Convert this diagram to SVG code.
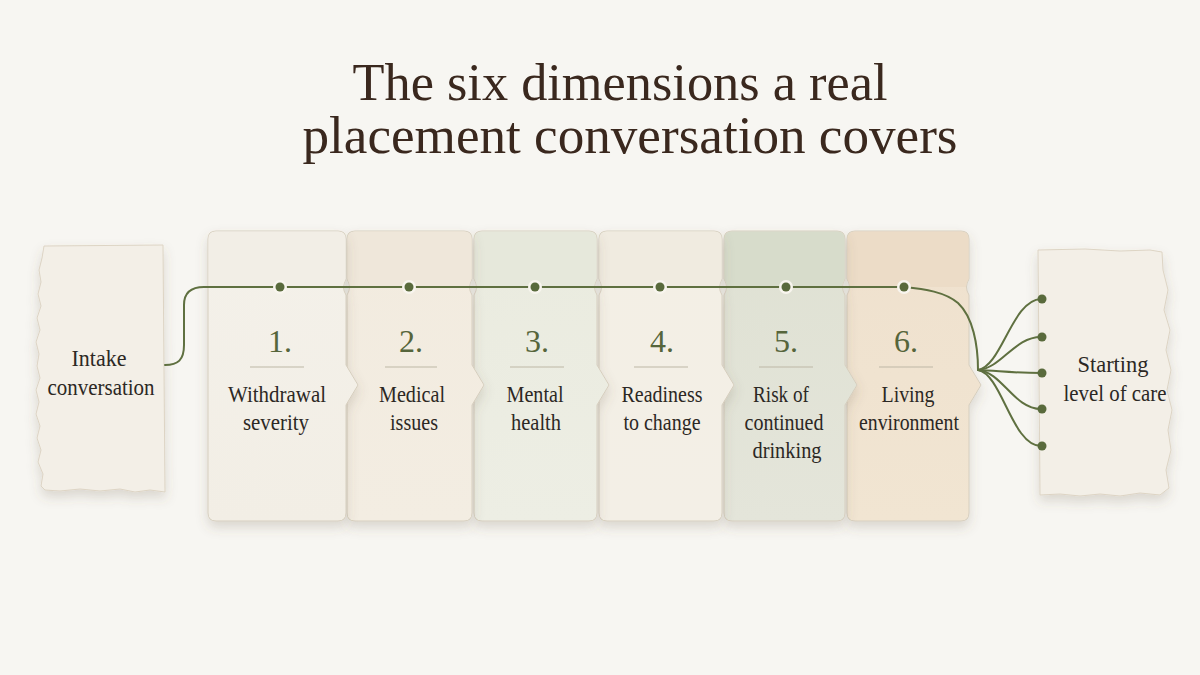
<svg xmlns="http://www.w3.org/2000/svg" width="1200" height="675" viewBox="0 0 1200 675">
<defs>
<filter id="sh" x="-20%" y="-20%" width="140%" height="140%">
<feDropShadow dx="0" dy="6" stdDeviation="6" flood-color="#6b5a40" flood-opacity="0.2"/>
</filter>
<linearGradient id="g1" x1="0" y1="0" x2="0" y2="1"><stop offset="0" stop-color="#f4f1ea"/><stop offset="1" stop-color="#f2eee5"/></linearGradient>
<linearGradient id="g2" x1="0" y1="0" x2="0" y2="1"><stop offset="0" stop-color="#f2ebdf"/><stop offset="1" stop-color="#f3ede2"/></linearGradient>
<linearGradient id="g3" x1="0" y1="0" x2="0" y2="1"><stop offset="0" stop-color="#eaebdf"/><stop offset="1" stop-color="#edeee4"/></linearGradient>
<linearGradient id="g4" x1="0" y1="0" x2="0" y2="1"><stop offset="0" stop-color="#f3efe5"/><stop offset="1" stop-color="#f3efe6"/></linearGradient>
<linearGradient id="g5" x1="0" y1="0" x2="0" y2="1"><stop offset="0" stop-color="#dfe1d3"/><stop offset="1" stop-color="#e4e5da"/></linearGradient>
<linearGradient id="g6" x1="0" y1="0" x2="0" y2="1"><stop offset="0" stop-color="#efe1ce"/><stop offset="1" stop-color="#f1e5d2"/></linearGradient>
</defs>
<style>
.card{stroke:#d6cebe;stroke-width:1;filter:url(#sh)}
.tab{stroke:none}
.paper{fill:#f3efe7;stroke:#ddd4c4;stroke-width:1;filter:url(#sh)}
.num{font-family:"Liberation Serif",serif;font-size:32px;fill:#56653b;text-anchor:middle}
.lab{font-family:"Liberation Serif",serif;font-size:24px;fill:#2c2824;text-anchor:middle}
.title{font-family:"Liberation Serif",serif;font-size:53px;fill:#3a281e;text-anchor:middle}
.rule{stroke:#bdb8a6;stroke-width:1.2}
.wire{fill:none;stroke:#5f7040;stroke-width:2;stroke-linecap:round}
.dot{fill:#596a3c}
.halo{fill:#f8f5ee}
</style>
<rect width="1200" height="675" fill="#f7f6f2"/>
<g id="title">
<text class="title" x="620" y="100" textLength="535" lengthAdjust="spacingAndGlyphs">The six dimensions a real</text>
<text class="title" x="630" y="153" textLength="655" lengthAdjust="spacingAndGlyphs">placement conversation covers</text>
</g>
<g id="intake">
<path class="paper" d="M44,246 L163,245 L165,492 L150,490 L135,492 L120,489 L100,491 L80,489 L60,491 L45,490 L41,486 L43,474 L38,462 L41,450 L37,438 L40,426 L36,414 L39,402 L36,390 L40,378 L37,366 L39,354 L36,342 L40,330 L37,318 L41,306 L38,294 L41,282 L39,270 L42,258 Z"/>
<text class="lab" x="99" y="366" textLength="55" lengthAdjust="spacingAndGlyphs">Intake</text>
<text class="lab" x="101" y="395" textLength="107" lengthAdjust="spacingAndGlyphs">conversation</text>
</g>
<g id="result">
<path class="paper" d="M1038,250 L1085,249 L1120,251 L1150,250 L1162,252 L1163,270 L1168,290 L1164,310 L1170,330 L1166,350 L1171,370 L1167,390 L1172,410 L1168,430 L1171,450 L1166,470 L1169,488 L1160,495 L1140,493 L1120,496 L1100,494 L1080,496 L1060,494 L1040,495 Z"/>
<text class="lab" x="1113" y="372" textLength="71" lengthAdjust="spacingAndGlyphs">Starting</text>
<text class="lab" x="1115" y="401" textLength="103" lengthAdjust="spacingAndGlyphs">level of care</text>
</g>
<g id="card6">
<path class="card" fill="url(#g6)" d="M855,231 H961 Q969,231 969,239 V279 Q964,287 969,295 V365 L981,385 L969,405 V513 Q969,521 961,521 H855 Q847,521 847,513 V295 Q852,287 847,279 V239 Q847,231 855,231 Z"/>
<path class="tab" fill="#ecdcc7" d="M855,231.5 H961 Q968.5,231.5 968.5,239 V279 Q966,284 966,287 H850 Q850,284 847.5,279 V239 Q847.5,231.5 855,231.5 Z"/>
<text class="num" x="906" y="352">6.</text>
<line class="rule" x1="879" y1="367" x2="933" y2="367"/>
<text class="lab" x="908" y="402" textLength="53" lengthAdjust="spacingAndGlyphs">Living</text>
<text class="lab" x="909" y="430" textLength="100" lengthAdjust="spacingAndGlyphs">environment</text>
</g>
<g id="card5">
<path class="card" fill="url(#g5)" d="M732,231 H837 Q845,231 845,239 V279 Q840,287 845,295 V365 L857,385 L845,405 V513 Q845,521 837,521 H732 Q724,521 724,513 V295 Q729,287 724,279 V239 Q724,231 732,231 Z"/>
<path class="tab" fill="#d7dccb" d="M732,231.5 H837 Q844.5,231.5 844.5,239 V279 Q842,284 842,287 H727 Q727,284 724.5,279 V239 Q724.5,231.5 732,231.5 Z"/>
<text class="num" x="786" y="352">5.</text>
<line class="rule" x1="759" y1="367" x2="813" y2="367"/>
<text class="lab" x="781" y="402" textLength="56" lengthAdjust="spacingAndGlyphs">Risk of</text>
<text class="lab" x="784" y="430" textLength="79" lengthAdjust="spacingAndGlyphs">continued</text>
<text class="lab" x="787" y="458" textLength="69" lengthAdjust="spacingAndGlyphs">drinking</text>
</g>
<g id="card4">
<path class="card" fill="url(#g4)" d="M607,231 H714 Q722,231 722,239 V279 Q717,287 722,295 V365 L734,385 L722,405 V513 Q722,521 714,521 H607 Q599,521 599,513 V295 Q604,287 599,279 V239 Q599,231 607,231 Z"/>
<path class="tab" fill="#f0ebe0" d="M607,231.5 H714 Q721.5,231.5 721.5,239 V279 Q719,284 719,287 H602 Q602,284 599.5,279 V239 Q599.5,231.5 607,231.5 Z"/>
<text class="num" x="662" y="352">4.</text>
<line class="rule" x1="634" y1="367" x2="688" y2="367"/>
<text class="lab" x="662" y="402" textLength="81" lengthAdjust="spacingAndGlyphs">Readiness</text>
<text class="lab" x="662" y="430" textLength="77" lengthAdjust="spacingAndGlyphs">to change</text>
</g>
<g id="card3">
<path class="card" fill="url(#g3)" d="M482,231 H589 Q597,231 597,239 V279 Q592,287 597,295 V365 L609,385 L597,405 V513 Q597,521 589,521 H482 Q474,521 474,513 V295 Q479,287 474,279 V239 Q474,231 482,231 Z"/>
<path class="tab" fill="#e6e8db" d="M482,231.5 H589 Q596.5,231.5 596.5,239 V279 Q594,284 594,287 H477 Q477,284 474.5,279 V239 Q474.5,231.5 482,231.5 Z"/>
<text class="num" x="537" y="352">3.</text>
<line class="rule" x1="510" y1="367" x2="564" y2="367"/>
<text class="lab" x="535" y="402" textLength="57" lengthAdjust="spacingAndGlyphs">Mental</text>
<text class="lab" x="536" y="430" textLength="50" lengthAdjust="spacingAndGlyphs">health</text>
</g>
<g id="card2">
<path class="card" fill="url(#g2)" d="M355,231 H464 Q472,231 472,239 V279 Q467,287 472,295 V365 L484,385 L472,405 V513 Q472,521 464,521 H355 Q347,521 347,513 V295 Q352,287 347,279 V239 Q347,231 355,231 Z"/>
<path class="tab" fill="#efe7da" d="M355,231.5 H464 Q471.5,231.5 471.5,239 V279 Q469,284 469,287 H350 Q350,284 347.5,279 V239 Q347.5,231.5 355,231.5 Z"/>
<text class="num" x="411" y="352">2.</text>
<line class="rule" x1="385" y1="367" x2="437" y2="367"/>
<text class="lab" x="412" y="402" textLength="66" lengthAdjust="spacingAndGlyphs">Medical</text>
<text class="lab" x="414" y="430" textLength="48" lengthAdjust="spacingAndGlyphs">issues</text>
</g>
<g id="card1">
<path class="card" fill="url(#g1)" d="M216,231 H338 Q346,231 346,239 V279 Q341,287 346,295 V365 L358,385 L346,405 V513 Q346,521 338,521 H216 Q208,521 208,513 V239 Q208,231 216,231 Z"/>
<path class="tab" fill="#f2eee6" d="M216,231.5 H338 Q345.5,231.5 345.5,239 V279 Q343,284 343,287 H208.5 V239 Q208.5,231.5 216,231.5 Z"/>
<text class="num" x="280" y="352">1.</text>
<line class="rule" x1="250" y1="367" x2="304" y2="367"/>
<text class="lab" x="277" y="402" textLength="98" lengthAdjust="spacingAndGlyphs">Withdrawal</text>
<text class="lab" x="276" y="430" textLength="66" lengthAdjust="spacingAndGlyphs">severity</text>
</g>
<g id="connectors">
<path class="wire" d="M165,365 C178,365 184,360 184,345 L184,305 C184,293 190,287 204,287 H904"/>
<path class="wire" d="M904,287 C925,289 945,292 958,303 C973,317 978,345 978,370"/>
<path class="wire" d="M978,370 C1002,366 1012,300 1041,299"/>
<path class="wire" d="M978,370 C1002,368 1014,337 1041,337"/>
<path class="wire" d="M978,370 C1000,371 1015,373 1041,373"/>
<path class="wire" d="M978,370 C1002,372 1014,409 1041,409"/>
<path class="wire" d="M978,370 C1002,374 1012,446 1041,446"/>
<circle class="halo" cx="280" cy="287" r="7"/>
<circle class="halo" cx="409" cy="287" r="7"/>
<circle class="halo" cx="535" cy="287" r="7"/>
<circle class="halo" cx="660" cy="287" r="7"/>
<circle class="halo" cx="786" cy="287" r="7"/>
<circle class="halo" cx="904" cy="287" r="7"/>
<circle class="dot" cx="280" cy="287" r="4.5"/>
<circle class="dot" cx="409" cy="287" r="4.5"/>
<circle class="dot" cx="535" cy="287" r="4.5"/>
<circle class="dot" cx="660" cy="287" r="4.5"/>
<circle class="dot" cx="786" cy="287" r="4.5"/>
<circle class="dot" cx="904" cy="287" r="4.5"/>
<circle class="dot" cx="1042" cy="299" r="4.5"/>
<circle class="dot" cx="1042" cy="337" r="4.5"/>
<circle class="dot" cx="1042" cy="373" r="4.5"/>
<circle class="dot" cx="1042" cy="409" r="4.5"/>
<circle class="dot" cx="1042" cy="446" r="4.5"/>
</g>
</svg>
